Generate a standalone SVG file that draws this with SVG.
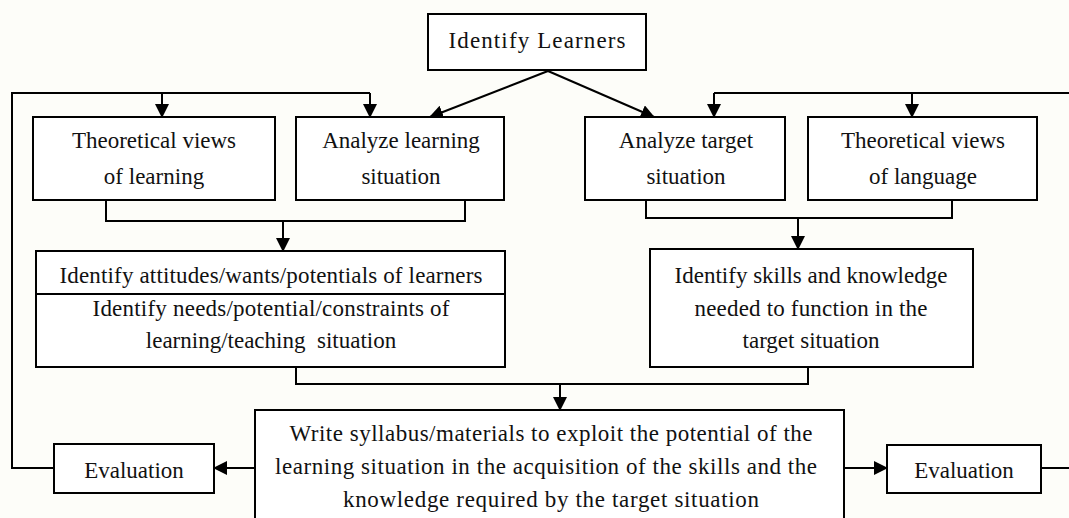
<svg xmlns="http://www.w3.org/2000/svg" width="1069" height="518" viewBox="0 0 1069 518">
  <style>
    .box { fill: #ffffff; stroke: #000; stroke-width: 2; }
    .ln { fill: none; stroke: #000; stroke-width: 2; }
    text { font-family: "Liberation Serif", "Times New Roman", serif; font-size: 23px; fill: #111; text-anchor: middle; }
  </style>
  <defs>
    <marker id="arr" markerUnits="userSpaceOnUse" markerWidth="14" markerHeight="14" viewBox="0 0 14 14" refX="13" refY="7" orient="auto">
      <path d="M0,0 L14,7 L0,14 Z" fill="#000"/>
    </marker>
  </defs>
  <rect width="1069" height="518" fill="#fdfdf9"/>

  <!-- connectors -->
  <g id="connectors">
    <!-- left feedback loop -->
    <polyline class="ln" points="54,468 12,468 12,93 370,93"/>
    <line class="ln" x1="162" y1="93" x2="162" y2="117" marker-end="url(#arr)"/>
    <line class="ln" x1="370" y1="93" x2="370" y2="117" marker-end="url(#arr)"/>
    <!-- right feedback loop -->
    <polyline class="ln" points="1041,468 1069,468"/>
    <polyline class="ln" points="1069,93 714,93"/>
    <line class="ln" x1="714" y1="93" x2="714" y2="117" marker-end="url(#arr)"/>
    <line class="ln" x1="912" y1="93" x2="912" y2="117" marker-end="url(#arr)"/>
    <!-- from Identify Learners -->
    <line class="ln" x1="548" y1="71" x2="430" y2="117" marker-end="url(#arr)"/>
    <line class="ln" x1="548" y1="71" x2="654" y2="117" marker-end="url(#arr)"/>
    <!-- left merge -->
    <polyline class="ln" points="106,200 106,221 465,221 465,200"/>
    <line class="ln" x1="283" y1="221" x2="283" y2="251" marker-end="url(#arr)"/>
    <!-- right merge -->
    <polyline class="ln" points="646,200 646,218 952,218 952,200"/>
    <line class="ln" x1="798" y1="218" x2="798" y2="249" marker-end="url(#arr)"/>
    <!-- bottom merge -->
    <polyline class="ln" points="296,367 296,384 808,384 808,367"/>
    <line class="ln" x1="560" y1="384" x2="560" y2="410" marker-end="url(#arr)"/>
    <!-- to evaluations -->
    <line class="ln" x1="255" y1="468" x2="214" y2="468" marker-end="url(#arr)"/>
    <line class="ln" x1="844" y1="468" x2="887" y2="468" marker-end="url(#arr)"/>
  </g>

  <g id="identify-learners">
    <rect class="box" x="428" y="14" width="218" height="56"/>
    <text x="537" y="48" textLength="177" lengthAdjust="spacing">Identify Learners</text>
  </g>

  <g id="theory-learning">
    <rect class="box" x="33" y="117" width="242" height="83"/>
    <text x="154" y="148">Theoretical views</text>
    <text x="154" y="184">of learning</text>
  </g>

  <g id="analyze-learning">
    <rect class="box" x="296" y="117" width="208" height="83"/>
    <text x="401" y="148">Analyze learning</text>
    <text x="401" y="184">situation</text>
  </g>

  <g id="analyze-target">
    <rect class="box" x="585" y="117" width="200" height="83"/>
    <text x="686" y="148">Analyze target</text>
    <text x="686" y="184">situation</text>
  </g>

  <g id="theory-language">
    <rect class="box" x="808" y="117" width="229" height="83"/>
    <text x="923" y="148">Theoretical views</text>
    <text x="923" y="184">of language</text>
  </g>

  <g id="learner-situation">
    <rect class="box" x="36" y="251" width="469" height="116"/>
    <line class="ln" x1="36" y1="294" x2="505" y2="294"/>
    <text x="271" y="283" textLength="423" lengthAdjust="spacing">Identify attitudes/wants/potentials of learners</text>
    <text x="271" y="316" textLength="357" lengthAdjust="spacing">Identify needs/potential/constraints of</text>
    <text x="271" y="348" xml:space="preserve">learning/teaching  situation</text>
  </g>

  <g id="skills-knowledge">
    <rect class="box" x="650" y="249" width="323" height="118"/>
    <text x="811" y="283">Identify skills and knowledge</text>
    <text x="811" y="316" textLength="233" lengthAdjust="spacing">needed to function in the</text>
    <text x="811" y="348">target situation</text>
  </g>

  <g id="write-syllabus">
    <rect class="box" x="255" y="410" width="589" height="130"/>
    <text x="551" y="441" textLength="523" lengthAdjust="spacing">Write syllabus/materials to exploit the potential of the</text>
    <text x="546" y="474" textLength="542" lengthAdjust="spacing">learning situation in the acquisition of the skills and the</text>
    <text x="551" y="507" textLength="416" lengthAdjust="spacing">knowledge required by the target situation</text>
  </g>

  <g id="evaluation-left">
    <rect class="box" x="54" y="444" width="160" height="49"/>
    <text x="134" y="478">Evaluation</text>
  </g>

  <g id="evaluation-right">
    <rect class="box" x="887" y="445" width="154" height="48"/>
    <text x="964" y="478">Evaluation</text>
  </g>
</svg>
